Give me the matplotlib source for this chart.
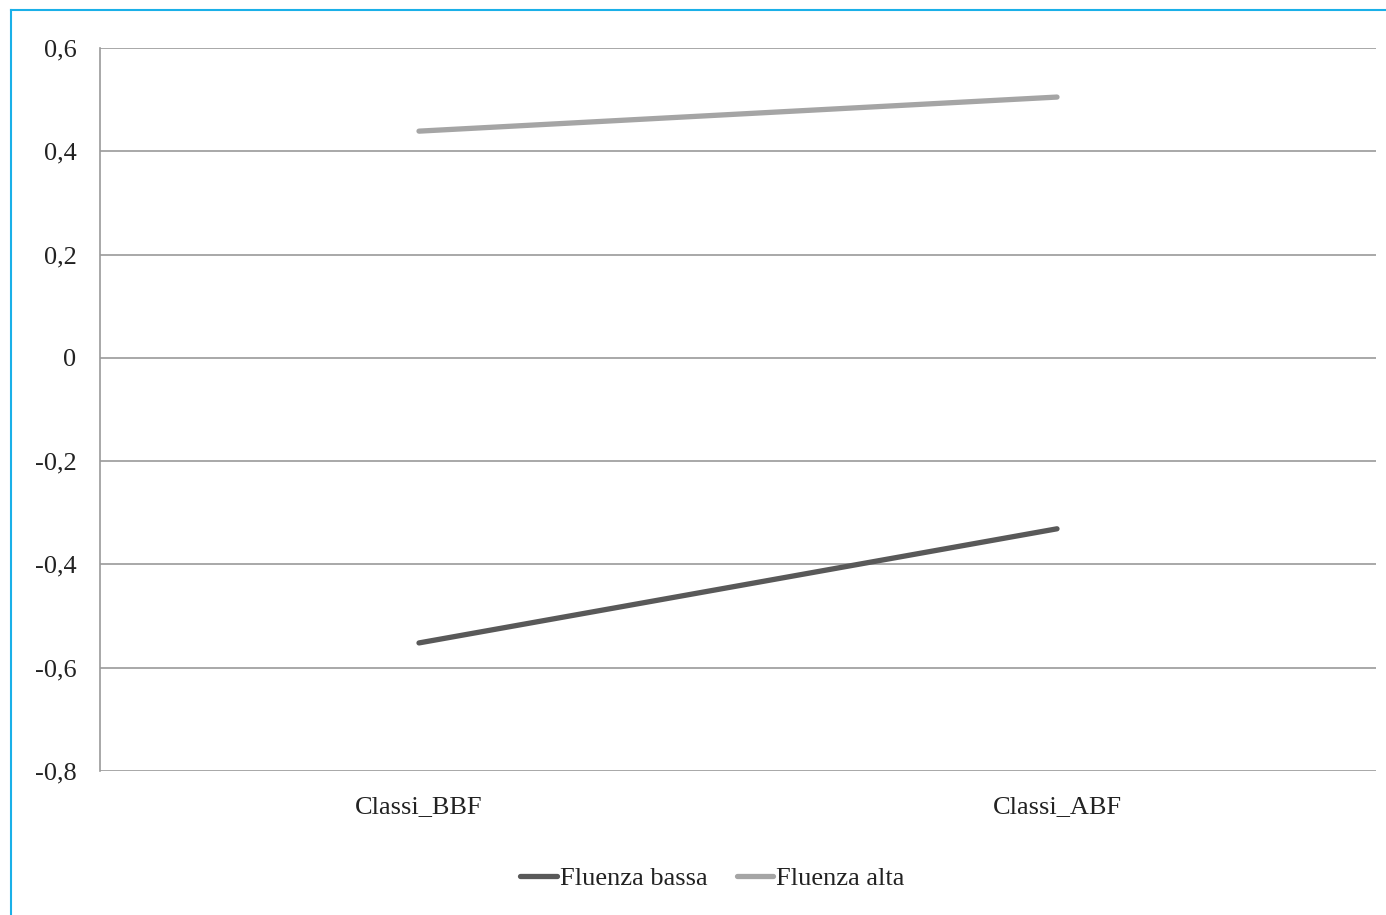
import matplotlib
matplotlib.use("Agg")
import matplotlib.pyplot as plt
from matplotlib.lines import Line2D

# ─── Data ─────────────────────────────────────────────────────────────────────

categories = ["Classi_BBF", "Classi_ABF"]
fluenza_bassa = [-0.552, -0.331]
fluenza_alta = [0.439, 0.505]
y_ticks = [-0.8, -0.6, -0.4, -0.2, 0.0, 0.2, 0.4, 0.6]
y_labels = ["-0,8", "-0,6", "-0,4", "-0,2", "0", "0,2", "0,4", "0,6"]

plt.rcParams["font.family"] = ["Liberation Serif", "DejaVu Serif"]

fig = plt.figure(figsize=(13.86, 9.15), dpi=100)
ax = fig.add_axes([100 / 1386, 1 - 771 / 915, 1276 / 1386, 723 / 915])

x = range(len(categories))
ax.plot(x, fluenza_bassa, color="#595959", lw=3.8, solid_capstyle="round",
        label="Fluenza bassa", zorder=3)
ax.plot(x, fluenza_alta, color="#A5A5A5", lw=3.8, solid_capstyle="round",
        label="Fluenza alta", zorder=3)

ax.set_xlim(-0.5, 1.5)
ax.set_ylim(-0.8, 0.6)
ax.set_yticks(y_ticks)
ax.set_yticklabels(y_labels)
ax.set_xticks(list(x))
ax.set_xticklabels(categories)
ax.tick_params(axis="y", length=0, pad=17, labelsize=19, colors="#222222")
ax.tick_params(axis="x", length=0, pad=18, labelsize=19, colors="#222222")

ax.grid(axis="y", color="#9A9A9A", lw=1.2)
ax.set_axisbelow(True)
for side in ["top", "right", "bottom"]:
    ax.spines[side].set_visible(False)
ax.spines["left"].set_color("#9A9A9A")
ax.spines["left"].set_linewidth(1.2)

fig.legend(loc="center", bbox_to_anchor=(0.514, 1 - 878 / 915), ncol=2,
           frameon=False, fontsize=19, handlelength=1.4, handletextpad=0.1,
           columnspacing=1.1, labelcolor="#222222")

# thin cyan frame (left and top edges visible)
fig.add_artist(Line2D([11 / 1386, 11 / 1386], [0, 1 - 10 / 915],
                      transform=fig.transFigure, color="#1AB0E8", lw=1.5))
fig.add_artist(Line2D([11 / 1386, 1], [1 - 10 / 915, 1 - 10 / 915],
                      transform=fig.transFigure, color="#1AB0E8", lw=1.5))

fig.savefig("out.png", dpi=100)
